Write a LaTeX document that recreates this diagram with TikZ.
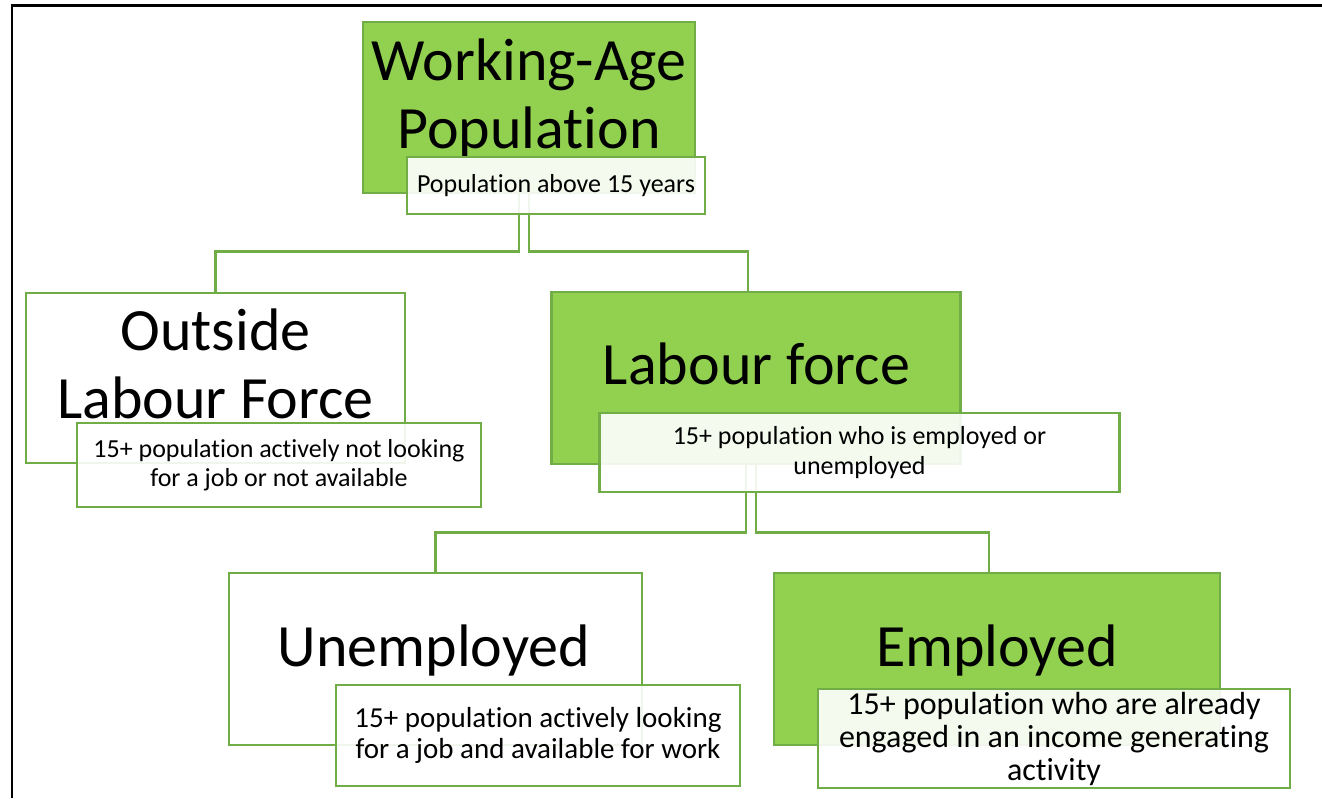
\documentclass[tikz,border=0pt]{standalone}
\usepackage{fontspec}
\setmainfont{Carlito}[RawFeature={-liga;-clig;-calt;-dlig;-rlig;-ccmp;-locl}]
\definecolor{boxgreen}{HTML}{92D050}
\definecolor{linegreen}{HTML}{70AD47}

\begin{document}
\begin{tikzpicture}[x=1pt, y=-1pt,
    greenbox/.style={draw=linegreen, line width=2.5pt, fill=boxgreen, inner sep=0pt},
    whitebox/.style={draw=linegreen, line width=2.5pt, fill=white, inner sep=0pt},
    note/.style={draw=linegreen, line width=2.5pt, fill=white, fill opacity=0.9,
        text opacity=1, align=center, inner sep=0pt, font=\fontsize{26}{29.5}\selectfont},
    title/.style={align=center, inner sep=0pt, font=\fontsize{60}{68}\selectfont},
    link/.style={draw=linegreen, line width=2.5pt}]
    \useasboundingbox (0,0) rectangle (1322,798);

    % Frame
    \draw[line width=3pt] (10.5,5) -- (1322,5);
    \draw[line width=2pt] (12,5) -- (12,798);

    % Boxes
    \node[greenbox, minimum width=332pt, minimum height=171pt] (wap) at (529,107.5) {};
    \node[whitebox, minimum width=379pt, minimum height=170pt] (olf) at (215.5,378) {};
    \node[greenbox, minimum width=409pt, minimum height=172pt] (lf) at (756,378) {};
    \node[whitebox, minimum width=413pt, minimum height=172pt] (unemp) at (435.5,659) {};
    \node[greenbox, minimum width=446pt, minimum height=172pt] (emp) at (997,659) {};

    % Connectors
    \draw[link] ([xshift=-10pt]wap.south) -- ++(0,57) -| (olf.north);
    \draw[link] ([xshift=0pt]wap.south) -- ++(0,57) -| ([xshift=-8pt]lf.north);
    \draw[link] ([xshift=-10pt]lf.south) -- ++(0,67) -| (unemp.north);
    \draw[link] ([xshift=0pt]lf.south) -- ++(0,67) -| ([xshift=-8pt]emp.north);

    % Titles
    \node[title] (wap-t) at (529,99) {Working-Age\\Population};
    \node[title] (olf-t) at (215.5,364) {Outside\\Labour Force};
    \node[title] (lf-t) at (756.5,364) {Labour force};
    \node[title] (unemp-t) at (434,650) {Unemployed};
    \node[title] (emp-t) at (997,650) {Employed};

    % Notes
    \node[note, minimum width=298pt, minimum height=57pt] (wap-n) at (556,185.5)
        {Population above 15 years};
    \node[note, minimum width=404pt, minimum height=84pt] (olf-n) at (279,465)
        {15+ population actively not looking\\for a job or not available};
    \node[note, minimum width=520pt, minimum height=79pt] (lf-n) at (859.5,452.5)
        {15+ population who is employed or\\unemployed};
    \node[note, minimum width=404pt, minimum height=101pt, font=\fontsize{29}{31}\selectfont]
        (unemp-n) at (538,735.5)
        {15+ population actively looking\\for a job and available for work};
    \node[note, minimum width=472pt, minimum height=99pt, font=\fontsize{32}{33}\selectfont]
        (emp-n) at (1054,738.5)
        {15+ population who are already\\engaged in an income generating\\activity};
\end{tikzpicture}
\end{document}
